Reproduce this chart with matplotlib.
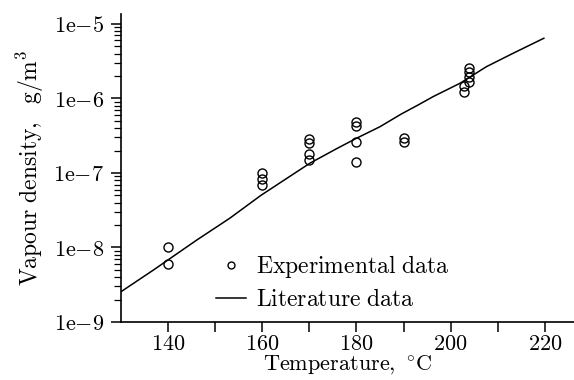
import matplotlib
matplotlib.use("Agg")
import matplotlib.pyplot as plt
from matplotlib.ticker import FixedLocator, FixedFormatter, LogLocator, NullFormatter
from matplotlib.lines import Line2D

plt.rcParams['mathtext.fontset'] = 'cm'
plt.rcParams['font.family'] = ['DejaVu Serif']

# Literature curve
lit_T = [130.0, 136.9, 146.1, 153.1, 159.7, 165.0, 170.1, 175.8, 180.0, 185.0,
         189.5, 193.1, 196.3, 202.0, 207.6, 213.3, 219.8]
lit_rho = [2.55e-9, 4.99e-9, 1.26e-8, 2.47e-8, 5.0e-8, 8.3e-8, 1.35e-7, 2.12e-7, 2.92e-7, 4.18e-7,
           6.17e-7, 8.18e-7, 1.06e-6, 1.60e-6, 2.67e-6, 4.05e-6, 6.43e-6]

# Experimental data
exp_T = [140, 140, 160, 160, 160, 170, 170, 170, 170,
         180, 180, 180, 180, 190, 190,
         202.9, 202.9, 203.8, 203.8, 203.8, 203.8]
exp_rho = [1.03e-8, 6.0e-9, 1.01e-7, 8.3e-8, 7.0e-8, 2.83e-7, 2.5e-7, 1.78e-7, 1.49e-7,
           4.89e-7, 4.3e-7, 2.58e-7, 1.4e-7, 2.98e-7, 2.63e-7,
           1.49e-6, 1.21e-6, 2.54e-6, 2.29e-6, 1.96e-6, 1.68e-6]

x_ticks = [140, 150, 160, 170, 180, 190, 200, 210, 220]
x_tick_labels = ['140', '', '160', '', '180', '', '200', '', '220']
y_ticks = [1e-9, 1e-8, 1e-7, 1e-6, 1e-5]
y_tick_labels = [r'$\mathrm{1e{-}9}$', r'$\mathrm{1e{-}8}$', r'$\mathrm{1e{-}7}$',
                 r'$\mathrm{1e{-}6}$', r'$\mathrm{1e{-}5}$']

FS_TICK = 16
FS_TEXT = 17

fig = plt.figure(figsize=(5.74, 3.80), dpi=100)
ax = fig.add_axes([121/574, 58/380, 453/574, 308/380])

ax.plot(lit_T, lit_rho, color='black', lw=1.1)
ax.plot(exp_T, exp_rho, linestyle='none', marker='o', markersize=6.5,
        markerfacecolor='none', markeredgecolor='black', markeredgewidth=1.0)

ax.set_yscale('log')
ax.set_xlim(130, 226.2)
ax.set_ylim(1e-9, 1.36e-5)

ax.xaxis.set_major_locator(FixedLocator(x_ticks))
ax.xaxis.set_major_formatter(FixedFormatter(
    [r'$\mathrm{%s}$' % t if t else '' for t in x_tick_labels]))
ax.yaxis.set_major_locator(FixedLocator(y_ticks))
ax.yaxis.set_major_formatter(FixedFormatter(y_tick_labels))
ax.yaxis.set_minor_locator(LogLocator(base=10, subs=range(2, 10), numticks=20))
ax.yaxis.set_minor_formatter(NullFormatter())

ax.tick_params(axis='both', which='major', direction='out', length=7, width=1.1,
               labelsize=FS_TICK)
ax.tick_params(axis='x', which='major', pad=1)
ax.tick_params(axis='y', which='major', pad=5)
ax.tick_params(axis='y', which='minor', direction='out', length=5, width=0.9)

for s in ['top', 'right']:
    ax.spines[s].set_visible(False)
for s in ['left', 'bottom']:
    ax.spines[s].set_linewidth(1.2)

ax.set_xlabel(r'$\mathrm{Temperature,\ ^{\circ}C}$', fontsize=16, labelpad=-1)
ax.set_ylabel(r'$\mathrm{Vapour\ density,\ \ g/m^3}$', fontsize=FS_TEXT, labelpad=5)

handles = [Line2D([], [], linestyle='none', marker='o', markersize=5,
                  markerfacecolor='none', markeredgecolor='black', markeredgewidth=1.0),
           Line2D([], [], color='black', lw=1.1)]
labels = [r'$\mathrm{Experimental\ data}$', r'$\mathrm{Literature\ data}$']
ax.legend(handles, labels, loc='lower left', bbox_to_anchor=(0.2097, 0.035),
          borderaxespad=0, borderpad=0, frameon=False, fontsize=FS_TEXT,
          handlelength=1.27, handletextpad=0.42, labelspacing=0.33)

fig.savefig('out.png', dpi=100)
